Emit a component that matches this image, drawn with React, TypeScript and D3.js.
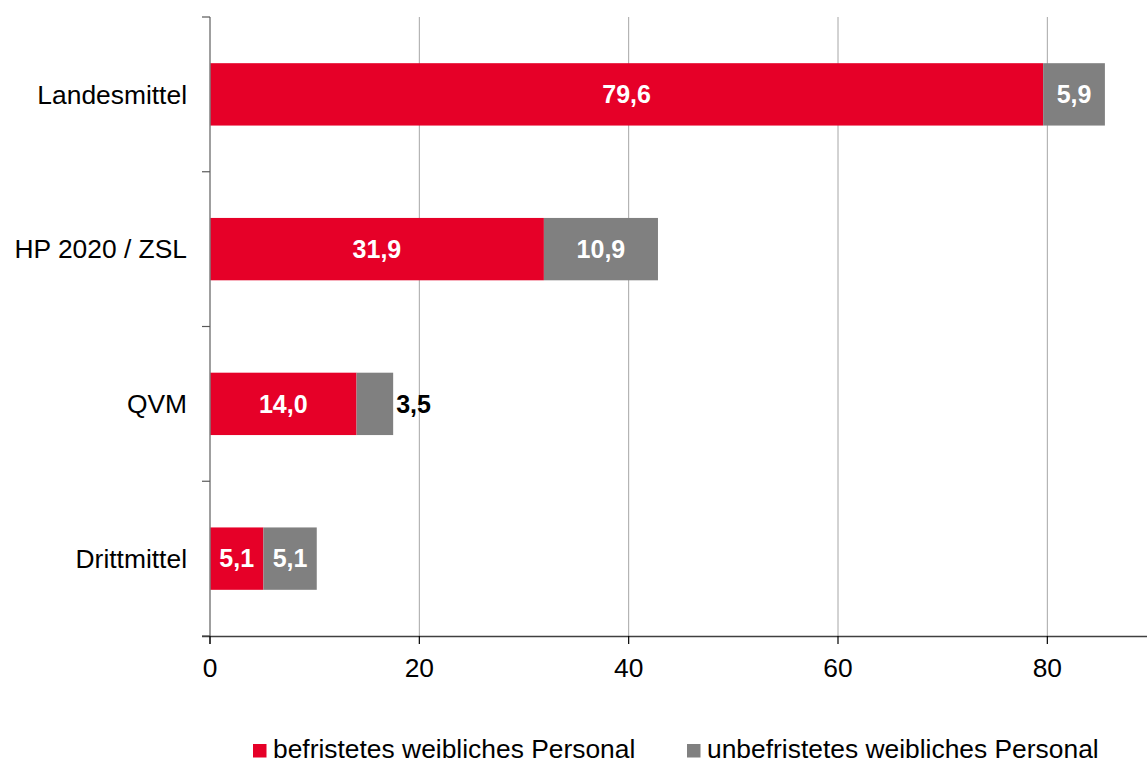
import * as d3 from 'd3';

const categories = ['Landesmittel', 'HP 2020 / ZSL', 'QVM', 'Drittmittel'];
const befristet = [79.6, 31.9, 14.0, 5.1];
const unbefristet = [5.9, 10.9, 3.5, 5.1];
const seriesNames = ['befristetes weibliches Personal', 'unbefristetes weibliches Personal'];
const xTicks = [0, 20, 40, 60, 80];

const W = 1147;
const H = 763;
const RED = '#e60028';
const GREY = '#808080';
const FONT = '"Liberation Sans", Arial, sans-serif';

const fmt = (v: number) => v.toFixed(1).replace('.', ',');

export default function App() {
  const x = d3.scaleLinear().domain([0, 90]).range([210, 1152]);
  const y = d3.scaleBand<string>()
    .domain(categories)
    .range([17, 636])
    .paddingInner(0.597)
    .paddingOuter(0.2985);

  const rows = categories.map((c, i) => ({ c, a: befristet[i], b: unbefristet[i] }));

  return (
    <svg width={W} height={H} style={{ position: 'fixed', left: 0, top: 0 }} fontFamily={FONT}>
      <rect width={W} height={H} fill="#fff" />

      {/* vertical gridlines */}
      {xTicks.filter((t) => t > 0).map((t) => (
        <line key={t} x1={x(t)} x2={x(t)} y1={17} y2={636} stroke="#a6a6a6" strokeWidth={1} />
      ))}

      {/* bars */}
      {rows.map((r) => {
        const yy = y(r.c)!;
        const bh = y.bandwidth();
        const cy = yy + bh / 2;
        const x0 = x(0), x1 = x(r.a), x2 = x(r.a + r.b);
        const outside = x2 - x1 < 45;
        return (
          <g key={r.c}>
            <rect x={x0} y={yy} width={x1 - x0} height={bh} fill={RED} />
            <rect x={x1} y={yy} width={x2 - x1} height={bh} fill={GREY} />
            <text x={(x0 + x1) / 2} y={cy} dy="0.35em" textAnchor="middle" fill="#fff"
              fontWeight="bold" fontSize={25}>{fmt(r.a)}</text>
            <text x={outside ? x2 + 3 : (x1 + x2) / 2} y={cy} dy="0.35em"
              textAnchor={outside ? 'start' : 'middle'} fill={outside ? '#000' : '#fff'}
              fontWeight="bold" fontSize={25}>{fmt(r.b)}</text>
          </g>
        );
      })}

      {/* y axis */}
      <line x1={210} x2={210} y1={17} y2={644} stroke="#7f7f7f" strokeWidth={1.5} />
      {d3.range(categories.length + 1).map((i) => {
        const ty = 17 + i * y.step();
        return <line key={i} x1={202} x2={210} y1={ty} y2={ty} stroke="#595959" strokeWidth={1.2} />;
      })}
      {categories.map((c) => (
        <text key={c} x={187} y={y(c)! + y.bandwidth() / 2} dy="0.35em" textAnchor="end"
          fontSize={26.4} fill="#000">{c}</text>
      ))}

      {/* x axis */}
      <line x1={202} x2={W} y1={636.5} y2={636.5} stroke="#404040" strokeWidth={1.3} />
      {xTicks.map((t) => (
        <g key={t}>
          <line x1={x(t)} x2={x(t)} y1={636} y2={644} stroke="#000" strokeWidth={1.2} />
          <text x={x(t)} y={676.5} textAnchor="middle" fontSize={26.4} fill="#000">{t}</text>
        </g>
      ))}

      {/* legend */}
      <rect x={253} y={744} width={13.5} height={13.5} fill={RED} />
      <text x={273} y={758} fontSize={26.4} fill="#000">{seriesNames[0]}</text>
      <rect x={687} y={744} width={13.5} height={13.5} fill={GREY} />
      <text x={707} y={758} fontSize={26.4} fill="#000">{seriesNames[1]}</text>
    </svg>
  );
}
